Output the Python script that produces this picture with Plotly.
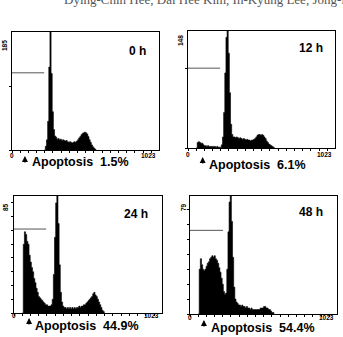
import numpy as np
import plotly.graph_objects as go

# ---------------- data ----------------
panel_titles = ["0 h", "12 h", "24 h", "48 h"]
apoptosis_pct = ["1.5%", "6.1%", "44.9%", "54.4%"]
y_max = [185, 148, 85, 79]
y_dtick = [100, 100, 10, 10]
bin_width = 8  # channels per histogram bin
bin_start = [224, 56, 56, 56]

counts_0h = [0, 6, 16, 45, 130, 185, 120, 60, 32, 22, 20,
             17, 18, 16, 17, 15, 16, 15, 14, 15,
             13, 12, 13, 12, 11, 12, 13, 12, 14,
             16, 19, 21, 24, 26, 27, 28, 27, 25, 21, 16, 12, 8, 5, 3, 1, 0]
counts_12h = [0, 7, 8, 7, 6, 6, 4, 3, 3, 2, 3, 2, 2, 2, 2, 2, 2, 1, 2, 1, 1, 1,
              4, 14, 45, 95, 140, 148, 120, 70, 30, 17,
              14, 14, 13, 14, 13, 12, 13, 12, 11, 12, 11, 10, 11, 10, 10, 9, 10, 10,
              11, 12, 14, 16, 17, 17, 16, 17, 16, 14, 12, 9, 7, 5, 4, 3, 2, 1, 0]
counts_24h = [0, 50, 59, 57, 52, 50, 42, 37, 33, 30, 25, 22, 18, 15, 12, 11, 10, 9,
              8, 7, 6, 6, 5, 5, 5, 6, 10, 28, 55, 80, 85, 65, 35, 15, 8, 5,
              4, 4, 3, 4, 3, 4, 3, 4, 3, 4, 3, 4, 4, 5, 4, 5, 5, 6, 6, 7, 8, 9,
              10, 11, 12, 14, 15, 13, 12, 10, 8, 6, 4, 2, 1, 0]
counts_48h = [0, 30, 37, 33, 30, 29, 30, 32, 34, 35, 37, 38, 39, 38, 39, 37, 36, 34,
              31, 28, 24, 20, 15, 13, 14, 30, 55, 75, 79, 62, 38, 18, 10, 8, 7, 6,
              6, 5, 6, 5, 5, 4, 5, 4, 4, 3, 4, 3, 3, 3, 3, 3, 3, 3, 4, 4, 4, 5, 5,
              4, 4, 3, 3, 2, 1, 1, 0]
all_counts = [counts_0h, counts_12h, counts_24h, counts_48h]

gate_end = [224, 224, 222, 230]      # channel where the M1 marker ends
gate_level = [121, 101, 61, 56]      # count level of the M1 marker
arrow_channel = [90, 102, 104, 97]

x_channel_max = 1023
header_text = "Dying-Chin Hee, Dai Hee Kim, In-Kyung Lee, Jong-Hoon Park"

# ---------------- layout geometry (pixels) ----------------
W, H = 343, 337
boxes = [(12, 159, 32, 150), (188, 335, 31, 148), (14, 162, 196, 313), (190, 337, 196, 314)]
title_pos = [(137, 51), (311, 48), (136, 214), (311, 212)]
ymax_label_pos = [(4, 46), (181, 41), (5, 207), (183, 207)]
apo_pos = [(80, 162), (257, 165), (87, 326), (263, 328)]
arrow_tip_y = [156, 157, 318, 320]
bottom_label_y = [155, 154, 315, 317]


def px(x):
    return x / W


def py(y):
    return 1 - y / H


fig = go.Figure()
annotations = []

for i in range(4):
    xa = "x" if i == 0 else f"x{i+1}"
    ya = "y" if i == 0 else f"y{i+1}"
    counts = all_counts[i]
    edges = bin_start[i] + bin_width * np.arange(len(counts))
    fig.add_trace(go.Scatter(
        x=edges, y=counts, mode="lines", line=dict(color="black", width=0.6, shape="hv"),
        fill="tozeroy", fillcolor="black", xaxis=xa, yaxis=ya, showlegend=False,
        hoverinfo="skip"))
    # M1 marker
    fig.add_trace(go.Scatter(
        x=[0, gate_end[i]], y=[gate_level[i], gate_level[i]], mode="lines",
        line=dict(color="#555555", width=1), xaxis=xa, yaxis=ya, showlegend=False,
        hoverinfo="skip"))

    l, r, t, b = boxes[i]
    axis_common = dict(showline=True, linecolor="black", linewidth=1, mirror=True,
                       showgrid=False, zeroline=False, showticklabels=False,
                       ticks="outside", ticklen=2, tickwidth=1, tickcolor="black")
    fig.layout[("xaxis" if i == 0 else f"xaxis{i+1}")] = dict(
        domain=[px(l), px(r)], range=[0, x_channel_max], anchor=ya,
        tick0=0, dtick=57, **axis_common)
    fig.layout[("yaxis" if i == 0 else f"yaxis{i+1}")] = dict(
        domain=[py(b), py(t)], range=[0, y_max[i]], anchor=xa,
        tick0=0, dtick=y_dtick[i], **axis_common)

    annotations.append(dict(x=px(title_pos[i][0]), y=py(title_pos[i][1]), xref="paper", yref="paper",
                            text=f"<b>{panel_titles[i]}</b>", showarrow=False,
                            font=dict(family="Liberation Sans", size=12, color="black"),
                            xanchor="center", yanchor="middle"))
    annotations.append(dict(x=px(ymax_label_pos[i][0]), y=py(ymax_label_pos[i][1]), xref="paper", yref="paper",
                            text=f"<b>{y_max[i]}</b>", showarrow=False, textangle=-90,
                            font=dict(family="Liberation Sans", size=6.5, color="black"),
                            xanchor="center", yanchor="middle"))
    annotations.append(dict(x=0, y=py(bottom_label_y[i]), xref=xa, yref="paper",
                            text="<b>0</b>", showarrow=False,
                            font=dict(family="Liberation Sans", size=6.5, color="black"),
                            xanchor="center", yanchor="middle"))
    annotations.append(dict(x=x_channel_max - 70, y=py(bottom_label_y[i]), xref=xa, yref="paper",
                            text="<b>1023</b>", showarrow=False,
                            font=dict(family="Liberation Sans Narrow, Liberation Sans", size=6.5, color="black"),
                            xanchor="center", yanchor="middle"))
    annotations.append(dict(x=arrow_channel[i], y=py(arrow_tip_y[i]), xref=xa, yref="paper",
                            text="", showarrow=True, ax=0, ay=8, axref="pixel", ayref="pixel",
                            arrowhead=2, arrowsize=1, arrowwidth=1.2, arrowcolor="black"))
    annotations.append(dict(x=px(apo_pos[i][0]), y=py(apo_pos[i][1]), xref="paper", yref="paper",
                            text=f"<b>Apoptosis\u00a0\u00a0{apoptosis_pct[i]}</b>", showarrow=False,
                            font=dict(family="Liberation Sans", size=12.5, color="black"),
                            xanchor="center", yanchor="middle"))

# cut-off running header at the top of the page
annotations.append(dict(x=px(62), y=py(9), xref="paper", yref="paper",
                        text=header_text, showarrow=False,
                        font=dict(family="Liberation Serif", size=13, color="#555555"),
                        xanchor="left", yanchor="bottom"))

fig.update_layout(width=W, height=H, margin=dict(l=0, r=0, t=0, b=0, pad=0),
                  paper_bgcolor="white", plot_bgcolor="white",
                  annotations=annotations, showlegend=False)

fig.write_html("out.html")
